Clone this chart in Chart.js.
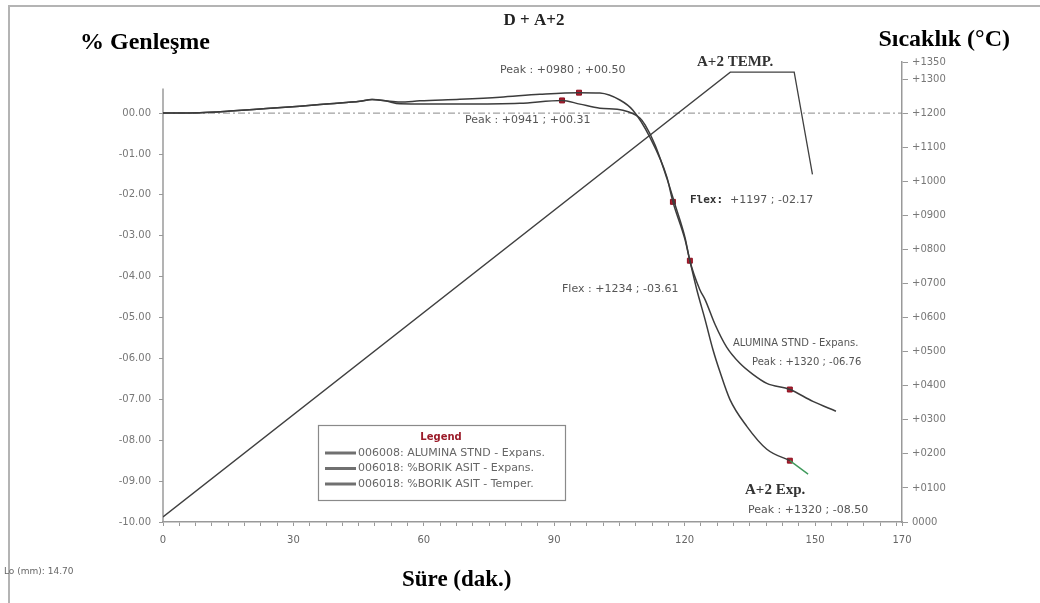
<!DOCTYPE html>
<html>
<head>
<meta charset="utf-8">
<script src="https://cdn.jsdelivr.net/npm/chart.js@4"></script>
<style>
html,body{margin:0;padding:0;background:#fff;}
#wrap{width:1040px;height:603px;position:relative;}
</style>
</head>
<body>
<div id="wrap"><canvas id="c" width="1040" height="603"></canvas></div>
<script>
// ---- Data ----
const xTickLabels = [0, 30, 60, 90, 120, 150, 170];
const leftTicks = [0, -1, -2, -3, -4, -5, -6, -7, -8, -9, -10];
const rightTicks = [0, 100, 200, 300, 400, 500, 600, 700, 800, 900, 1000, 1100, 1200, 1300, 1350];

// A+2 (%BORIK ASIT) expansion, minutes / %
const a2Time = [0, 8.5, 15.4, 22.3, 31.5, 38.4, 45.3, 48.1, 51.1, 54.5, 59.1, 68.3, 77.5, 86.7, 95.7, 100.5, 105.1, 108.1, 112.0, 115.9, 117.3, 120.1, 121.2, 122.8, 124.7, 126.5, 128.1, 130.4, 134.3, 138.9, 144.2];
const a2Exp  = [0, 0.01, 0.05, 0.10, 0.17, 0.23, 0.29, 0.33, 0.30, 0.27, 0.30, 0.34, 0.39, 0.46, 0.50, 0.49, 0.32, 0.07, -0.59, -1.56, -2.17, -3.10, -3.61, -4.32, -5.05, -5.78, -6.32, -7.00, -7.66, -8.22, -8.50];
const a2TailTime = [144.2, 148.4];
const a2TailExp  = [-8.50, -8.83];

// ALUMINA STND expansion
const alTime = [0, 8.5, 15.4, 22.3, 31.5, 38.4, 45.3, 48.1, 51.1, 54.5, 68.3, 82.1, 91.8, 95.9, 100.5, 105.8, 109.7, 110.9, 113.2, 115.9, 117.8, 120.1, 121.2, 123.5, 124.7, 127.0, 129.7, 132.7, 135.7, 138.9, 144.2, 149.5, 154.8];
const alExp  = [0, 0.01, 0.05, 0.10, 0.17, 0.23, 0.29, 0.33, 0.30, 0.23, 0.22, 0.24, 0.31, 0.22, 0.12, 0.07, -0.12, -0.29, -0.78, -1.59, -2.24, -3.05, -3.61, -4.32, -4.56, -5.17, -5.73, -6.12, -6.39, -6.61, -6.76, -7.05, -7.29];

// Temperature program
const tempTime = [0, 130.5, 145.2, 149.4];
const tempVal  = [15, 1320, 1320, 1020];

// Marked points (peaks / inflections)
const markTime = [95.7, 91.8, 117.3, 121.2, 144.2, 144.2];
const markExp  = [0.50, 0.31, -2.17, -3.61, -6.76, -8.50];

const legendItems = ["006008: ALUMINA STND - Expans.", "006018: %BORIK ASIT - Expans.", "006018: %BORIK ASIT - Temper."];

const pts = (xs, ys) => xs.map((x, i) => ({x: x, y: ys[i]}));

const curveColor = '#3c3c3c';
const SERIF = '"Liberation Serif", "Times New Roman", serif';
const SANS = '"DejaVu Sans", sans-serif';

const decor = {
  id: 'decor',
  beforeDraw(chart) {
    const ctx = chart.ctx;
    ctx.save();
    ctx.fillStyle = '#fff';
    ctx.fillRect(0, 0, chart.width, chart.height);
    ctx.strokeStyle = '#b4b4b4';
    ctx.lineWidth = 2;
    ctx.beginPath();
    ctx.moveTo(9, 603); ctx.lineTo(9, 6); ctx.lineTo(1040, 6);
    ctx.stroke();
    ctx.restore();
  },
  beforeDatasetsDraw(chart) {
    const ctx = chart.ctx, ca = chart.chartArea;
    const y = chart.scales.y, x = chart.scales.x;
    ctx.save();
    ctx.strokeStyle = '#9a9a9a';
    ctx.lineWidth = 1.5;
    ctx.beginPath();
    ctx.moveTo(x.left, y.getPixelForValue(0.6));
    ctx.lineTo(x.left, y.getPixelForValue(-10));
    ctx.stroke();
    ctx.strokeStyle = '#8a8a8a';
    ctx.lineWidth = 1;
    ctx.setLineDash([7, 3, 2, 3]);
    ctx.beginPath();
    const yz = y.getPixelForValue(0);
    ctx.moveTo(ca.left, yz); ctx.lineTo(ca.right, yz);
    ctx.stroke();
    ctx.restore();
  },
  afterDraw(chart) {
    const ctx = chart.ctx;
    ctx.save();
    ctx.textBaseline = 'middle';
    ctx.fillStyle = '#000';
    ctx.font = 'bold 24px ' + SERIF;
    ctx.textAlign = 'left';
    ctx.fillText('% Genleşme', 80, 43);
    ctx.textAlign = 'right';
    ctx.fillText('Sıcaklık (°C)', 1010, 40);
    ctx.textAlign = 'left';
    ctx.font = 'bold 23px ' + SERIF;
    ctx.fillText('Süre (dak.)', 402, 580);
    ctx.fillStyle = '#222';
    ctx.font = 'bold 17px ' + SERIF;
    ctx.textAlign = 'center';
    ctx.fillText('D + A+2', 534, 21);
    ctx.textAlign = 'left';
    ctx.fillStyle = '#666';
    ctx.font = '9px ' + SANS;
    ctx.fillText('Lo (mm): 14.70', 4, 572);
    // annotations
    ctx.fillStyle = '#555';
    ctx.font = '11px ' + SANS;
    ctx.fillText('Peak : +0980 ; +00.50', 500, 70);
    ctx.fillText('Peak : +0941 ; +00.31', 465, 120);
    ctx.fillText('Flex : +1234 ; -03.61', 562, 289);
    ctx.fillText('Peak : +1320 ; -08.50', 748, 510);
    ctx.font = '10px ' + SANS;
    ctx.fillText('ALUMINA STND - Expans.', 733, 343);
    ctx.fillText('Peak : +1320 ; -06.76', 752, 362);
    ctx.fillStyle = '#333';
    ctx.font = 'bold 11px "DejaVu Sans Mono", monospace';
    ctx.fillText('Flex:', 690, 200);
    ctx.fillStyle = '#555';
    ctx.font = '11px ' + SANS;
    ctx.fillText('+1197 ; -02.17', 730, 200);
    ctx.fillStyle = '#333';
    ctx.font = 'bold 15px ' + SERIF;
    ctx.fillText('A+2 TEMP.', 697, 62);
    ctx.fillText('A+2 Exp.', 745, 490);
    // legend box
    ctx.strokeStyle = '#8a8a8a';
    ctx.lineWidth = 1.2;
    ctx.strokeRect(318.5, 425.5, 247, 75);
    ctx.fillStyle = '#9b1c2a';
    ctx.font = 'bold 10px ' + SANS;
    ctx.textAlign = 'center';
    ctx.fillText('Legend', 441, 437);
    ctx.textAlign = 'left';
    ctx.font = '11px ' + SANS;
    legendItems.forEach((t, i) => {
      const yy = 453 + i * 15.5;
      ctx.strokeStyle = '#707070';
      ctx.lineWidth = 3;
      ctx.beginPath(); ctx.moveTo(325, yy); ctx.lineTo(356, yy); ctx.stroke();
      ctx.fillStyle = '#666';
      ctx.fillText(t, 358, yy);
    });
    ctx.restore();
  }
};

const tickFont = {family: '"DejaVu Sans", sans-serif', size: 10};

new Chart(document.getElementById('c'), {
  type: 'line',
  data: {
    datasets: [
      {label: 'ALUMINA STND - Expans.', data: pts(alTime, alExp), yAxisID: 'y', borderColor: curveColor, borderWidth: 1.5, pointRadius: 0, cubicInterpolationMode: 'monotone'},
      {label: '%BORIK ASIT - Expans.', data: pts(a2Time, a2Exp), yAxisID: 'y', borderColor: curveColor, borderWidth: 1.5, pointRadius: 0, cubicInterpolationMode: 'monotone'},
      {label: 'tail', data: pts(a2TailTime, a2TailExp), yAxisID: 'y', borderColor: '#3f9a5c', borderWidth: 1.4, pointRadius: 0},
      {label: '%BORIK ASIT - Temper.', data: pts(tempTime, tempVal), yAxisID: 'y2', borderColor: '#404040', borderWidth: 1.3, pointRadius: 0, tension: 0},
      {label: 'marks', type: 'scatter', data: pts(markTime, markExp), yAxisID: 'y', pointStyle: 'rect', pointRadius: 3.5, backgroundColor: '#b01c2c', borderColor: '#8a1020', borderWidth: 1}
    ]
  },
  options: {
    responsive: false,
    animation: false,
    layout: {padding: {top: 62, left: 0, right: 0, bottom: 0}},
    plugins: {legend: {display: false}, tooltip: {enabled: false}},
    scales: {
      x: {
        type: 'linear', min: 0, max: 170,
        afterBuildTicks(s) {
          const t = [];
          for (let v = 0; v < 170; v += 3.75) t.push({value: v});
          xTickLabels.forEach(v => { if (!t.some(o => Math.abs(o.value - v) < 0.01)) t.push({value: v}); });
          t.sort((a, b) => a.value - b.value);
          s.ticks = t;
        },
        afterFit(s) { s.height = 81; },
        ticks: {
          autoSkip: false, maxRotation: 0, color: '#666', font: tickFont, padding: 8,
          callback: v => xTickLabels.some(l => Math.abs(l - v) < 0.01) ? String(Math.round(v)) : ''
        },
        grid: {drawOnChartArea: false, tickLength: 4, color: '#999', lineWidth: 1},
        border: {display: true, color: '#999', width: 1.5}
      },
      y: {
        type: 'linear', position: 'left', min: -10, max: 1.25,
        afterBuildTicks(s) { s.ticks = leftTicks.map(v => ({value: v})); },
        afterFit(s) { s.width = 163; },
        ticks: {
          color: '#777', font: tickFont, padding: 8,
          callback: v => (v < 0 ? '-' : '') + String(Math.abs(v).toFixed(2)).padStart(5, '0')
        },
        grid: {drawOnChartArea: false, tickLength: 4, color: '#999'},
        border: {display: false}
      },
      y2: {
        type: 'linear', position: 'right', min: 0, max: 1350,
        afterBuildTicks(s) { s.ticks = rightTicks.map(v => ({value: v})); },
        afterFit(s) { s.width = 138; },
        ticks: {
          color: '#777', font: tickFont, padding: 4,
          callback: v => v === 0 ? '0000' : '+' + String(v).padStart(4, '0')
        },
        grid: {drawOnChartArea: false, tickLength: 6, color: '#999'},
        border: {display: true, color: '#999', width: 1.5}
      }
    }
  },
  plugins: [decor]
});
</script>
</body>
</html>
